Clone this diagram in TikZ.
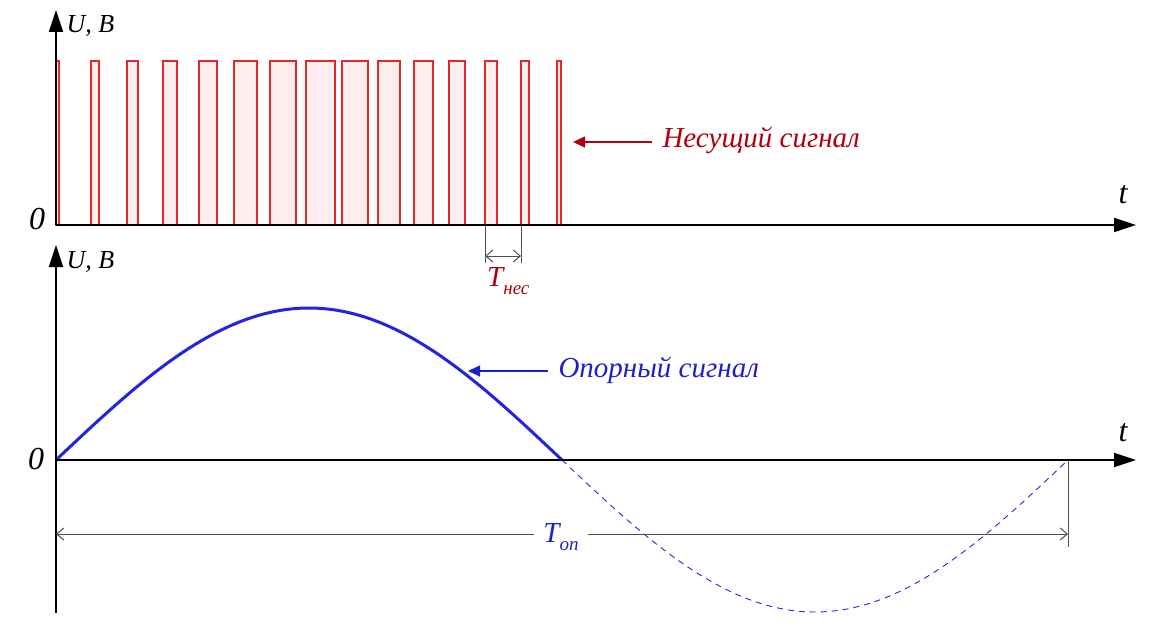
\documentclass[tikz,border=0pt]{standalone}
\usepackage{fontspec}
\setmainfont{Liberation Serif}
\usetikzlibrary{arrows.meta}
\definecolor{pulsered}{HTML}{E22828}
\definecolor{pulsefill}{HTML}{FDEDED}
\definecolor{labelred}{HTML}{B00010}
\definecolor{sineblue}{HTML}{2424E0}
\definecolor{labelblue}{HTML}{2020C8}
\definecolor{dimgray}{HTML}{505050}
\begin{document}
\begin{tikzpicture}[x=1pt,y=-1pt,
  axis/.style={line width=2pt,-{Triangle[length=22pt,width=14pt]}},
  pulse/.style={draw=pulsered,fill=pulsefill,line width=1.3pt},
  sine/.style={draw=sineblue,line width=3pt},
  sinedash/.style={draw=sineblue,line width=0.9pt,dash pattern=on 6pt off 5pt},
  dimline/.style={draw=dimgray,line width=1pt},
  dimarrow/.style={dimline,{Straight Barb[length=7pt,width=12pt]}-{Straight Barb[length=7pt,width=12pt]}},
  bigital/.style={font=\fontsize{32}{32}\selectfont\itshape},
  axlabel/.style={font=\fontsize{26}{26}\selectfont\itshape},
  siglabel/.style={font=\fontsize{29}{29}\selectfont\itshape},
  tlabel/.style={font=\fontsize{29}{29}\selectfont\itshape},
  redarrow/.style={draw=labelred,line width=1.2pt,-{Triangle[length=12pt,width=11pt]}},
  bluearrow/.style={draw=labelblue,line width=1.2pt,-{Triangle[length=12pt,width=11pt]}}]
\useasboundingbox (0,0) rectangle (1167,631);

% ---------- top graph: carrier ----------
\foreach \a/\b in {56/59,91/99,127/138,163/177,199/217,234/257,270/296,306/335,342/368,378/400,414/433,449/465,485/497,521/529,557/561}
  \draw[pulse] (\a,225) rectangle (\b,61);

\coordinate (o1) at (56,225);
\coordinate (ytop1) at (56,10);
\coordinate (xend1) at (1136,225);
\draw[axis] (o1) -- (ytop1);
\draw[axis] (o1) -- (xend1);
\node[axlabel,anchor=base west] (ub1) at (63,33) {U, В};
\node[bigital] (zero1) at (37,219) {0};
\node[bigital] (t1) at (1123,195) {t};

\node[siglabel,text=labelred,anchor=base west] (carrier) at (659,148) {Несущий сигнал};
\coordinate (carriertip) at (573,142);
\draw[redarrow] (carrier.west |- carriertip) ++(-7,0) coordinate (ctail) -- (carriertip);

% T_nes dimension
\coordinate (tn1) at (485,225);
\coordinate (tn2) at (521,225);
\draw[dimline] (tn1) -- (485,263);
\draw[dimline] (tn2) -- (521,263);
\draw[dimarrow] (485,256) -- (521,256);
\node[tlabel,text=labelred,anchor=base west,inner sep=0pt] (tnes) at (487,286)
  {T\raisebox{-0.28em}{\fontsize{19}{19}\selectfont нес}};

% ---------- bottom graph: reference ----------
\draw[sine] plot[domain=0:506,samples=120] ({56+\x},{460-152*sin(\x/506*180)});
\draw[sinedash] plot[domain=506:1012,samples=120] ({56+\x},{460-152*sin(\x/506*180)});

\coordinate (o2) at (56,460);
\coordinate (ytop2) at (56,245);
\coordinate (ybot2) at (56,613);
\coordinate (xend2) at (1136,460);
\coordinate (tend) at (1068,460);
\draw[line width=2pt] (o2) -- (ybot2);
\draw[axis] (o2) -- (ytop2);
\draw[axis] (o2) -- (xend2);
\node[axlabel,anchor=base west] (ub2) at (63,268) {U, В};
\node[bigital] (zero2) at (36,459) {0};
\node[bigital] (t2) at (1123,433) {t};

\node[siglabel,text=labelblue,anchor=base west] (refl) at (555,377) {Опорный сигнал};
\coordinate (reftip) at (468,371);
\draw[bluearrow] (refl.west |- reftip) ++(-7,0) -- (reftip);

% T_op dimension
\draw[dimline] (tend) -- (1068,547);
\coordinate (dl) at (56,534);
\coordinate (dr) at (1068,534);
\draw[dimarrow] (dl) -- (dr);
\node[tlabel,text=labelblue,fill=white,inner xsep=9pt,inner ysep=2pt] (top) at (561,537)
  {T\raisebox{-0.28em}{\fontsize{19}{19}\selectfont оп}};
\end{tikzpicture}
\end{document}
